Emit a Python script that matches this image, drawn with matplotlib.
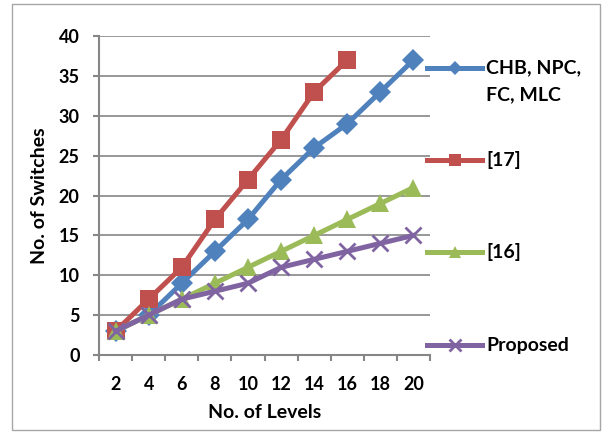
import matplotlib.pyplot as plt
from matplotlib.lines import Line2D
from matplotlib.patches import Rectangle

plt.rcParams['font.family'] = ['Lato', 'DejaVu Sans']
plt.rcParams['font.weight'] = 'bold'

levels = ['2', '4', '6', '8', '10', '12', '14', '16', '18', '20']
chb = [3, 5, 9, 13, 17, 22, 26, 29, 33, 37]
ref17 = [3, 7, 11, 17, 22, 27, 33, 37]
ref16 = [3, 5, 7, 9, 11, 13, 15, 17, 19, 21]
proposed = [3, 5, 7, 8, 9, 11, 12, 13, 14, 15]

series = [
    (['CHB, NPC,', 'FC, MLC'], chb, '#4F81BD', 'D', 11.5, 7),
    (['[17]'], ref17, '#C0504D', 's', 13.5, 9),
    (['[16]'], ref16, '#9BBB59', '^', 13, 9),
    (['Proposed'], proposed, '#8064A2', 'x', 11.5, 9),
]

fig = plt.figure(figsize=(6.04, 4.34), dpi=100)
ax = fig.add_axes([0.164, 0.182, 0.548, 0.735])

for label, vals, col, mk, ms, _ in series:
    xs = list(range(len(vals)))
    ax.plot(xs, vals, color=col, lw=3.6, marker=mk, ms=ms,
            mew=2 if mk == 'x' else 0, mec=col, zorder=3)

ax.set_xlim(-0.5, 9.5)
ax.set_ylim(0, 40)
ax.set_yticks(range(0, 41, 5))
ax.set_xticks(range(len(levels)))
ax.set_xticklabels(levels)
ax.set_xticks([i - 0.5 for i in range(len(levels) + 1)], minor=True)
ax.tick_params(axis='x', which='major', length=0, pad=15, labelsize=13)
ax.tick_params(axis='x', which='minor', length=4, width=1.5, color='#868686')
ax.tick_params(axis='y', length=4, width=1.5, color='#868686', labelsize=13, pad=10)
ax.grid(axis='y', color='#868686', lw=1.2)
ax.set_axisbelow(True)
for s in ['top', 'right']:
    ax.spines[s].set_visible(False)
for s in ['left', 'bottom']:
    ax.spines[s].set_color('#868686')
    ax.spines[s].set_linewidth(1.5)

ax.set_xlabel('No. of Levels', fontsize=14, fontweight='bold', labelpad=8)
ax.set_ylabel('No. of Switches', fontsize=14, fontweight='bold', labelpad=8)

# legend drawn by hand on the right, in figure pixels
W, H = 604, 434
leg_y = [68, 160, 252, 345]
for (lines, vals, col, mk, ms, lms), y in zip(series, leg_y):
    yy = 1 - y / H
    fig.add_artist(Line2D([427 / W, 482 / W], [yy, yy], color=col, lw=3.6,
                          transform=fig.transFigure))
    fig.add_artist(Line2D([454.5 / W], [yy], color=col, marker=mk, ms=lms,
                          mew=2 if mk == 'x' else 0, mec=col,
                          transform=fig.transFigure))
    for i, txt in enumerate(lines):
        fig.text(486 / W, 1 - (y + 27 * i) / H, txt,
                 fontsize=14, fontweight='bold', va='center', ha='left')

fig.add_artist(Rectangle((12 / W, 4 / H), 588 / W, 426 / H,
                         transform=fig.transFigure, fill=False,
                         edgecolor='#A6A6A6', lw=1))

fig.savefig('out.png', dpi=100)
